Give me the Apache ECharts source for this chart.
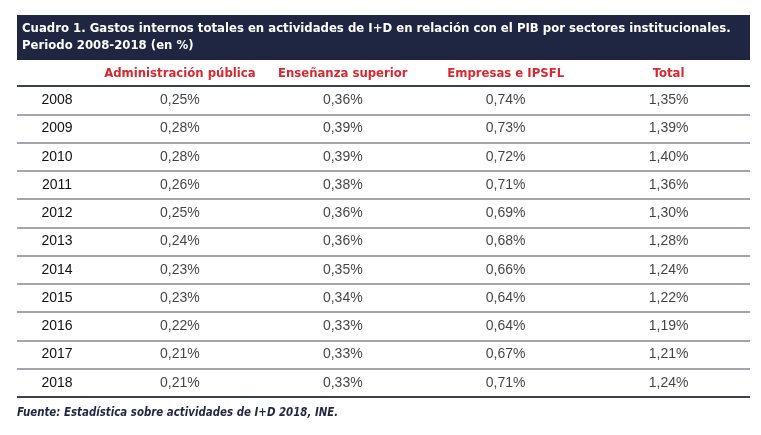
<!DOCTYPE html>
<html>
<head>
<meta charset="utf-8">
<script src="https://cdn.jsdelivr.net/npm/echarts@6/dist/echarts.min.js"></script>
<style>
html, body { margin: 0; padding: 0; background: #fff; }
#tabla { width: 761px; height: 435px; }
</style>
</head>
<body>
<div id="tabla"></div>
<script>
// datos del cuadro
var years = ['2008', '2009', '2010', '2011', '2012', '2013', '2014', '2015', '2016', '2017', '2018'];
var columns = ['Administración pública', 'Enseñanza superior', 'Empresas e IPSFL', 'Total'];
var adminPublica = [0.25, 0.28, 0.28, 0.26, 0.25, 0.24, 0.23, 0.23, 0.22, 0.21, 0.21];
var ensenanza = [0.36, 0.39, 0.39, 0.38, 0.36, 0.36, 0.35, 0.34, 0.33, 0.33, 0.33];
var empresas = [0.74, 0.73, 0.72, 0.71, 0.69, 0.68, 0.66, 0.64, 0.64, 0.67, 0.71];
var total = [1.35, 1.39, 1.40, 1.36, 1.30, 1.28, 1.24, 1.22, 1.19, 1.21, 1.24];
var titleText = 'Cuadro 1. Gastos internos totales en actividades de I+D en relación con el PIB por sectores institucionales.\nPeriodo 2008-2018 (en %)';
var sourceText = 'Fuente: Estadística sobre actividades de I+D 2018, INE.';

var narrow = "'DejaVu Sans Condensed', 'Liberation Sans', sans-serif";
var plain = "'Liberation Sans', Arial, sans-serif";
var navy = '#1f2642';

function pct(v) {
	return v.toFixed(2).replace('.', ',') + '%';
}

// una serie por columna, x = numero de columna, y = fila
var cols = [adminPublica, ensenanza, empresas, total];
var series = cols.map(function (vals, j) {
	return {
		type: 'scatter',
		name: columns[j],
		symbolSize: 0,
		silent: true,
		label: {
			show: true,
			position: 'inside',
			color: '#111',
			fontSize: 14,
			fontFamily: plain,
			formatter: function (p) { return pct(p.value[2]); }
		},
		data: vals.map(function (v, i) { return [j + 1, i, v]; })
	};
});

// lineas de fila: oscuras arriba y abajo, grises entre filas
var lineColors = [];
for (var k = 0; k <= years.length; k++) {
	lineColors.push(k === 0 || k === years.length ? '#3a3f55' : '#a3a5ab');
}

var myChart = echarts.init(document.getElementById('tabla'));
var option = {
	animation: false,
	title: [{
		text: titleText,
		left: 17,
		top: 15,
		z: 10,
		textStyle: {
			color: '#ffffff',
			fontSize: 13,
			fontWeight: 'bold',
			fontFamily: narrow,
			lineHeight: 17
		}
	}, {
		text: sourceText,
		left: 12,
		top: 401,
		textStyle: {
			color: navy,
			fontSize: 11.4,
			fontWeight: 'bold',
			fontStyle: 'italic',
			fontFamily: narrow,
			lineHeight: 14
		}
	}],
	graphic: [{
		type: 'rect',
		z: 0,
		shape: { x: 17, y: 15, width: 733, height: 45 },
		style: { fill: navy }
	}],
	grid: { left: 17, right: 11, top: 86, bottom: 38 },
	xAxis: {
		type: 'value',
		position: 'top',
		min: 0,
		max: 4.5,
		interval: 1,
		axisLine: { show: false },
		axisTick: { show: false },
		splitLine: { show: false },
		axisLabel: {
			margin: 6,
			color: '#d8282f',
			fontSize: 13,
			fontWeight: 'bold',
			fontFamily: narrow,
			formatter: function (v) {
				return (v % 1 === 0 && v >= 1) ? columns[v - 1] : '';
			}
		}
	},
	yAxis: {
		type: 'category',
		data: years,
		inverse: true,
		axisLine: { show: false },
		axisTick: { show: false },
		splitLine: {
			show: true,
			lineStyle: { color: lineColors, width: 2 }
		},
		axisLabel: {
			inside: true,
			align: 'center',
			margin: 40,
			color: '#111',
			fontSize: 14,
			fontFamily: plain
		}
	},
	series: series
};
myChart.setOption(option);
</script>
</body>
</html>
